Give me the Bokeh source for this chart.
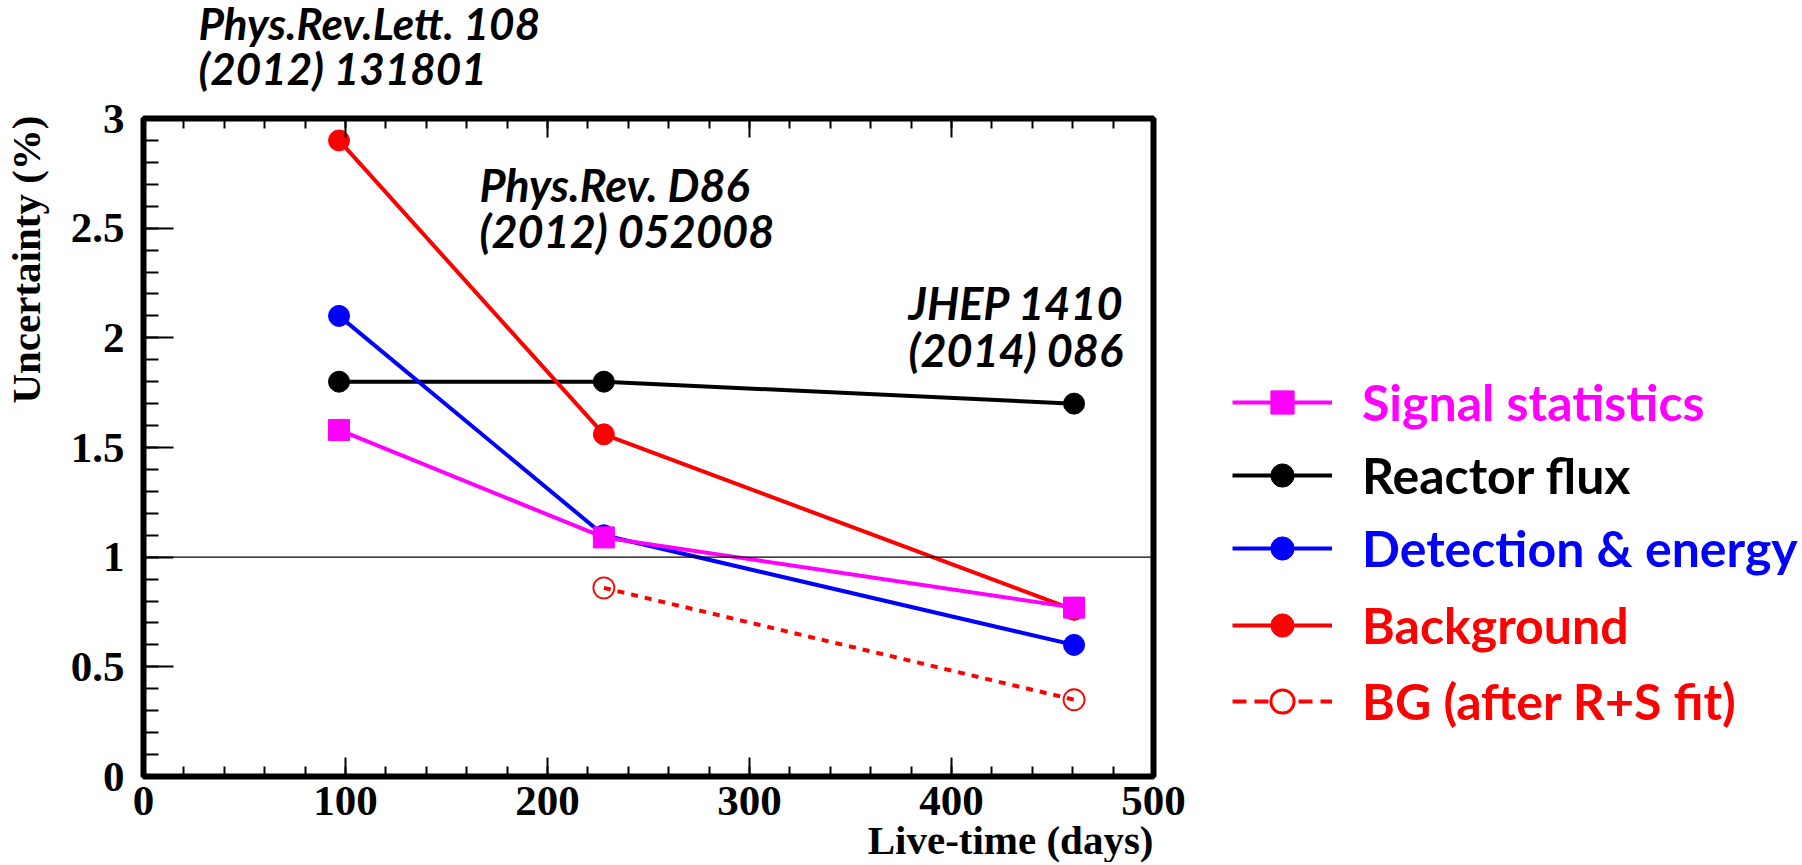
import math
from bokeh.plotting import figure
from bokeh.layouts import row, column
from bokeh.models import (Label, Legend, LegendItem, Span, FixedTicker, LinearAxis,
                          NumeralTickFormatter, Range1d, SingleIntervalTicker, Title)
from bokeh.embed import file_html
from bokeh.resources import INLINE

# ---------------- data ----------------
live_time = [96.8, 227.9, 460.67]
signal_stat = [1.58, 1.09, 0.77]
reactor_flux = [1.8, 1.8, 1.7]
detection = [2.1, 1.1, 0.6]
background = [2.9, 1.56, 0.76]
bg_fit_time = [227.9, 460.67]
bg_fit = [0.86, 0.35]

series_names = ["Signal statistics", "Reactor flux", "Detection & energy",
                "Background", "BG (after R+S fit)"]
top_reference = "Phys.Rev.Lett. 108\n(2012) 131801"
inner_references = ["Phys.Rev. D86\n(2012) 052008", "JHEP 1410\n(2014) 086"]
ref_x = [166.3, 378.7]
ref_y = [2.82, 2.28]
x_title = "Live-time (days)"
y_title = "Uncertainty (%)"
grid_levels = [0.5, 1.5, 2, 2.5]

MAG = "#ff00ff"
BLK = "#000000"
BLU = "#0000ff"
RED = "#ff0000"

SERIF = "Liberation Serif"
SANS = "Lato"

# layout sizes (px)
YT_W = 55      # strip holding the y title
TOP_H = 100    # strip holding the top reference
FRAME_W = 1010
P_W = 88 + FRAME_W + 37
TOTAL_H = 864


def blank_fig(w, h, xr):
    f = figure(width=w, height=h, x_range=Range1d(0, xr), y_range=Range1d(0, h),
               output_backend="svg", toolbar_location=None, min_border=0,
               x_axis_type=None, y_axis_type=None)
    f.outline_line_color = None
    f.xgrid.visible = False
    f.ygrid.visible = False
    f.background_fill_color = "white"
    f.border_fill_color = "white"
    return f


p = figure(frame_width=FRAME_W, frame_height=658,
           x_range=Range1d(0, 500), y_range=Range1d(0, 3),
           output_backend="svg", toolbar_location=None,
           min_border_left=88, min_border_top=18,
           min_border_bottom=86, min_border_right=37,
           x_axis_type=None, y_axis_type=None)
p.background_fill_color = "white"
p.border_fill_color = "white"
p.outline_line_color = "black"
p.outline_line_width = 6

def style_axis(ax, major_in, minor_in):
    ax.axis_line_color = None
    ax.major_tick_in = major_in
    ax.major_tick_out = 0
    ax.minor_tick_in = minor_in
    ax.minor_tick_out = 0
    ax.major_tick_line_width = 2
    ax.minor_tick_line_width = 2
    ax.major_tick_line_color = "black"
    ax.minor_tick_line_color = "black"
    ax.major_label_text_font = SERIF
    ax.major_label_text_font_style = "bold"
    ax.major_label_text_font_size = "43px"
    ax.major_label_text_color = "black"

xaxis = LinearAxis(ticker=SingleIntervalTicker(interval=100, num_minor_ticks=5))
style_axis(xaxis, 19, 10)
xaxis.major_label_standoff = 10
p.add_layout(xaxis, "below")

xtop = LinearAxis(ticker=SingleIntervalTicker(interval=100, num_minor_ticks=5))
style_axis(xtop, 19, 10)
xtop.major_label_text_font_size = "1px"
xtop.major_label_overrides = {t: "" for t in range(0, 501, 100)}
xtop.major_label_standoff = 0
p.add_layout(xtop, "above")

yaxis = LinearAxis(ticker=SingleIntervalTicker(interval=0.5, num_minor_ticks=5),
                   formatter=NumeralTickFormatter(format="0.[0]"))
style_axis(yaxis, 30, 15)
yaxis.major_label_standoff = 19
p.add_layout(yaxis, "left")

p.ygrid.ticker = FixedTicker(ticks=grid_levels)
p.ygrid.grid_line_color = "black"
p.ygrid.grid_line_dash = "2 3"
p.ygrid.grid_line_width = 1.2
p.xgrid.visible = False
p.add_layout(Span(location=1, dimension="width", line_color="black", line_width=1.2))

# ---------------- series ----------------
lw = 4
def draw_series(fig, xs, ys, color, marker, dash="solid", fill=True, size=21,
                open_fill=None, open_lw=1.8):
    l = fig.line(xs, ys, line_color=color, line_width=lw, line_dash=dash)
    if fill:
        s = fig.scatter(xs, ys, marker=marker, size=size, color=color)
    else:
        s = fig.scatter(xs, ys, marker=marker, size=size, fill_color=open_fill,
                        line_color=color, line_width=open_lw)
    return [l, s]

draw_series(p, live_time, reactor_flux, BLK, "circle")
draw_series(p, live_time, detection, BLU, "circle")
draw_series(p, live_time, background, RED, "circle")
draw_series(p, bg_fit_time, bg_fit, RED, "circle", dash="7 7", fill=False)
draw_series(p, live_time, signal_stat, MAG, "square")

# ---------------- texts ----------------
for txt, xx, yy in zip(inner_references, ref_x, ref_y):
    p.add_layout(Label(x=xx, y=yy, text=txt, text_align="left", text_baseline="top",
                       text_font=SANS, text_font_style="bold italic",
                       text_font_size="45px", text_color="black", text_line_height=0.86))

p.add_layout(Title(text=x_title, align="right", standoff=-5,
                   text_font=SERIF, text_font_style="bold", text_font_size="41px",
                   text_color="black"), "below")

# strip above the plot (its frame lines up with the plot frame): first publication reference
r = blank_fig(P_W, TOP_H, FRAME_W)
r.add_layout(Label(x=55, y=TOP_H + 4, text=top_reference,
                   text_align="left", text_baseline="top",
                   text_font=SANS, text_font_style="bold italic",
                   text_font_size="44px", text_color="black", text_line_height=0.88))

# strip left of the plot: y-axis title (top-aligned, rotated)
yt = blank_fig(YT_W, TOTAL_H, YT_W)
yt.add_layout(Label(x=25, y=TOTAL_H - 115, text=y_title, angle=math.pi / 2,
                    text_align="right", text_baseline="middle",
                    text_font=SERIF, text_font_style="bold", text_font_size="41px",
                    text_color="black"))

# ---------------- legend panel ----------------
# the series are repeated here only to feed the legend; the ranges keep them out of view
q = figure(width=612, height=TOTAL_H, x_range=Range1d(1000, 1001), y_range=Range1d(100, 101),
           output_backend="svg", toolbar_location=None,
           min_border=0, x_axis_type=None, y_axis_type=None)
q.outline_line_color = None
q.xgrid.visible = False
q.ygrid.visible = False
q.background_fill_color = "white"
q.border_fill_color = "white"

leg_data = [(live_time, signal_stat, MAG, "square", "solid", True),
            (live_time, reactor_flux, BLK, "circle", "solid", True),
            (live_time, detection, BLU, "circle", "solid", True),
            (live_time, background, RED, "circle", "solid", True),
            (bg_fit_time, bg_fit, RED, "circle", "14 8", False)]
leg_vy = [432, 359, 286, 209, 133]
for name, (xs, ys, col, mk, dash, fill), vy in zip(series_names, leg_data, leg_vy):
    rends = draw_series(q, xs, ys, col, mk, dash=dash, fill=fill,
                        open_fill="white", open_lw=3)
    lg = Legend(items=[LegendItem(label=name, renderers=rends)],
                location=(42, vy), orientation="vertical",
                glyph_width=100, glyph_height=58, label_height=58,
                label_standoff=30, padding=0, margin=0, spacing=0,
                border_line_color=None, background_fill_alpha=0,
                label_text_font=SANS, label_text_font_style="bold",
                label_text_font_size="50px", label_text_color=col,
                label_text_baseline="middle")
    q.add_layout(lg, "center")

layout = row(yt, column(r, p), q)
open("out.html", "w").write(file_html(layout, INLINE))
